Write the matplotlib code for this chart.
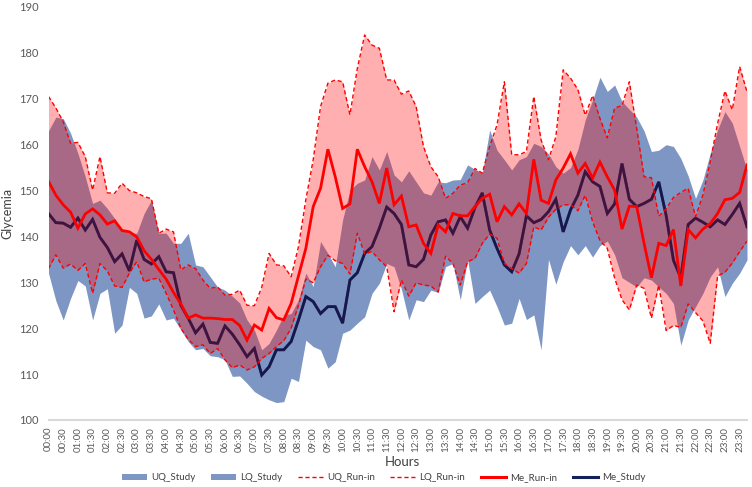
import matplotlib
matplotlib.use("Agg")
import matplotlib.pyplot as plt
from matplotlib.patches import Patch
from matplotlib.lines import Line2D
import numpy as np

plt.rcParams['font.family'] = ['Lato', 'DejaVu Sans']

# 15-minute categories, labelled every 30 minutes
times = [f"{h:02d}:{m:02d}" for h in range(24) for m in (0, 15, 30, 45)]
tick_labels = [t for t in times if t.endswith(":00") or t.endswith(":30")]

uq_run_in = [170.5, 168, 165, 160.3, 160.5, 157.4, 150.1, 157.4, 149.5, 149.4, 151.6, 150,
             149.5, 148.7, 148.2, 140.7, 141.6, 141, 132.7, 133.8, 133, 130.5, 128.7, 129,
             127.2, 127.4, 128.3, 125, 124.9, 128.9, 136.3, 133.8, 133.6, 131.2, 137.8, 148,
             156.7, 168.3, 173.4, 174.1, 173.7, 166.5, 176.6, 183.9, 181.7, 181, 174.1, 174.1,
             171, 171.7, 168.3, 159.6, 155.2, 153, 148.3, 149.4, 151.2, 151.7, 154.8, 153.8,
             159.6, 164.3, 173.7, 157.8, 157.8, 158.5, 170.5, 161, 156.7, 161.7, 176.3, 174.5,
             172, 166.4, 170.7, 165.7, 161.5, 168, 168.5, 173.7, 163.5, 153, 152.8, 144.4,
             146, 148.5, 149.6, 150.5, 144.3, 149, 156.3, 164.6, 171.7, 167.6, 177, 171.5]

lq_run_in = [133, 136, 133.1, 134, 132.6, 134.1, 127.6, 134.1, 132.5, 129.2, 128.9, 132,
             134.5, 130.1, 130.7, 130.9, 127.6, 124, 120, 117.6, 116, 116.4, 114.5, 115.6,
             113.1, 111.4, 112, 110.9, 111.6, 113.4, 114.5, 116, 117.3, 120, 125, 130.7,
             129.9, 133.4, 135.9, 134.7, 134.1, 131.8, 140.7, 136.2, 136.7, 134.9, 133.4, 123.6,
             130.5, 127, 129.9, 129.4, 129.2, 127.9, 135.7, 134.1, 129.4, 134.5, 135.2, 138.5,
             140.5, 139.6, 134.1, 133, 132, 134.1, 142.1, 141.4, 144.2, 145.9, 146.9, 146.9,
             145.6, 149, 143.2, 139.1, 137.4, 130.9, 126.2, 124, 129.4, 128.7, 122.2, 129.4,
             119.5, 120.6, 120.2, 125.3, 123.4, 121.6, 116.7, 131.4, 132.2, 134.2, 136.7, 139]

me_run_in = [152, 149, 146.9, 145.3, 141.8, 144.9, 146, 144.7, 142.7, 143.4, 141.3, 141,
             139.9, 136.9, 135, 132.8, 130.7, 127.8, 125.3, 122.2, 122.9, 122.2, 122.2, 122.1,
             121.9, 121.9, 120.6, 117.4, 120.7, 119.6, 124.3, 122.3, 121.8, 125.4, 131.4, 137.4,
             146.5, 150.5, 159, 153, 146.1, 147.1, 159, 155.2, 151.9, 147.2, 154.9, 146.9,
             148.8, 142.1, 142.5, 138.5, 136.3, 142.5, 141, 145, 144.5, 144.5, 146.5, 148.3,
             149.2, 143.2, 146.5, 144.7, 147.1, 145, 156.8, 147.9, 147.2, 152.3, 154.9, 158,
             153.8, 155.9, 152.7, 156.2, 153, 150.1, 141.6, 146.6, 146.5, 138.5, 131, 138.5,
             138, 141.5, 129.2, 141.5, 139.7, 141.6, 142.8, 145, 148, 148.3, 149.6, 155.6]

uq_study = [163, 166, 165.7, 162.5, 158.1, 153, 147.2, 147.9, 146.1, 143.9, 141.4, 140.7,
            140.7, 145, 147.9, 140.7, 140.7, 138.5, 138.5, 140.7, 133.8, 133.4, 131.2, 129,
            128.3, 127, 125.5, 121.8, 119.6, 115.3, 116.7, 119.6, 122.9, 123.2, 126.2, 132,
            129.1, 138.9, 136.3, 133.4, 143.6, 150.1, 151.6, 152.3, 157.4, 154.5, 158.5, 153.4,
            151.9, 154.3, 151.9, 149.5, 149, 151.9, 151.7, 152.3, 152.4, 155.6, 154.6, 153.8,
            163.2, 158.8, 156.7, 154.5, 156.7, 157.4, 160.3, 159.6, 158, 155.2, 153.8, 155,
            159, 165.4, 169.7, 174.7, 171.6, 173, 169.4, 167.7, 166, 163, 158.5, 158.8,
            160, 159.6, 157, 153.2, 148.3, 152.3, 158.1, 163.2, 167.2, 164.7, 159.6, 154.5]

lq_study = [132, 126, 121.8, 126.5, 130.4, 129.2, 121.8, 127.6, 128.6, 118.9, 120.7, 128.9,
            127.6, 122.2, 122.7, 125.3, 121.8, 122.2, 119.6, 117.1, 115.3, 115.6, 114, 113.8,
            113.1, 109.5, 109.6, 108, 106.2, 105.2, 104.4, 103.8, 104, 109.1, 108.4, 117.4,
            116, 115.3, 111.3, 112.7, 118.9, 119.6, 121.1, 122.5, 127.6, 129.8, 134.1, 133.4,
            128.5, 121.8, 126.2, 125.8, 128.3, 127.8, 133.4, 134.1, 126.2, 134.9, 125.4, 126.9,
            128.3, 124.7, 120.7, 121.1, 126.5, 121.9, 122.9, 115.3, 135, 129.6, 134.5, 138,
            136, 138, 135.5, 138, 139, 136, 131, 130, 129, 131, 130.5, 129,
            127.6, 125.4, 116.3, 121.8, 124.7, 127.6, 131.2, 133.4, 126.9, 129.8, 132, 134.9]

me_study = [145, 143, 142.9, 142, 144, 141.4, 143.7, 139.8, 137.6, 134.5, 136.2, 132.5,
            139.2, 135, 134, 135.6, 132.3, 132.1, 125, 122.2, 119, 120.9, 116.9, 116.7,
            120.5, 118.7, 116.4, 113.8, 115.6, 109.8, 111.6, 115.3, 115.3, 117.1, 121.8, 126.9,
            125.8, 123.2, 124.7, 124.7, 121.1, 130.5, 132.1, 136.3, 137.8, 141.8, 146.4, 145,
            142.6, 133.8, 133.4, 135, 140.3, 143.2, 143.6, 140.7, 144.3, 141.8, 146.3, 149.5,
            141.4, 137.4, 133.8, 132.3, 136.2, 144.5, 143, 143.7, 145.4, 148.1, 141, 145.8,
            149, 154.1, 151.9, 150.9, 145, 147.1, 155.9, 148.1, 146.5, 147.2, 148.1, 151.9,
            144.6, 134.8, 131, 142.6, 144, 143.1, 142.1, 143.6, 142.6, 144.8, 147.2, 142.1]

blue = "#7D96C3"
red = "#FF0F0F"
navy = "#14205A"

fig = plt.figure(figsize=(7.52, 4.87), dpi=100)
ax = fig.add_axes([48.5 / 752, 1 - 420 / 487, (747 - 48.5) / 752, (420 - 7) / 487])

x = np.arange(len(times))
ax.fill_between(x, lq_study, uq_study, color=blue, lw=0, zorder=1)
ax.plot(x, me_study, color=navy, lw=2.0, zorder=2, solid_joinstyle='miter')
ax.fill_between(x, lq_run_in, uq_run_in, color=red, alpha=0.333, lw=0, zorder=3)
ax.plot(x, me_study, color="#1A1040", lw=2.0, alpha=0.5, zorder=3.5, solid_joinstyle='miter')
ax.plot(x, uq_run_in, color="#FF0000", lw=1.0, ls=(0, (3, 2)), zorder=4)
ax.plot(x, lq_run_in, color="#FF0000", lw=1.0, ls=(0, (3, 2)), zorder=4)
ax.plot(x, me_run_in, color="#FF0000", lw=2.0, zorder=5, solid_joinstyle='miter')

ax.set_xlim(0, len(times) - 1)
ax.set_ylim(100, 190)
ax.set_yticks(np.arange(100, 191, 10))
ax.set_xticks(x[::2])
ax.set_xticklabels(tick_labels, rotation=90, fontsize=7, color="#595959")
ax.tick_params(axis='y', labelsize=8, colors="#595959", length=0, pad=7)
ax.tick_params(axis='x', length=0, pad=5)
for s in ("top", "right", "left"):
    ax.spines[s].set_visible(False)
ax.spines["bottom"].set_color("#D9D9D9")
ax.spines["bottom"].set_linewidth(1.5)

ax.set_ylabel("Glycemia", fontsize=9, color="#404040", labelpad=4)
fig.text(0.535, 1 - 462 / 487, "Hours", ha="center", va="center", fontsize=9.5, color="#404040")

handles = [
    Patch(facecolor=blue, edgecolor="none"),
    Patch(facecolor=blue, edgecolor="none"),
    Line2D([0], [0], color="#FF0000", lw=1.0, ls=(0, (3, 2))),
    Line2D([0], [0], color="#FF0000", lw=1.0, ls=(0, (3, 2))),
    Line2D([0], [0], color="#FF0000", lw=2.2),
    Line2D([0], [0], color=navy, lw=2.2),
]
labels = ["UQ_Study", "LQ_Study", "UQ_Run-in", "LQ_Run-in", "Me_Run-in", "Me_Study"]
fig.legend(handles, labels, loc="center", bbox_to_anchor=(0.51, 1 - 478 / 487), ncol=6,
           frameon=False, fontsize=7, handlelength=2.6, handleheight=0.45,
           columnspacing=1.6, handletextpad=0.4, labelcolor="#404040")

fig.savefig("out.png", dpi=100)
